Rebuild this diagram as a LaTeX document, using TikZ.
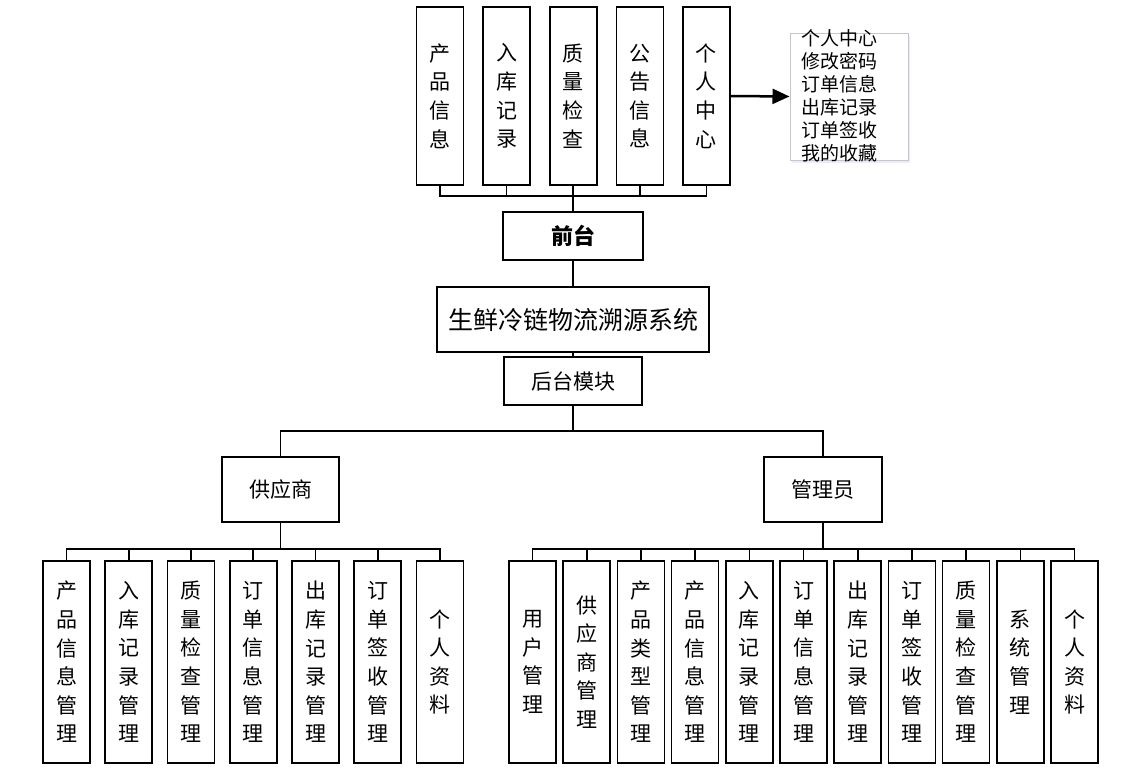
\documentclass[tikz,border=0pt]{standalone}
\usepackage{fontspec}
\setmainfont{Noto Sans CJK SC}
\XeTeXlinebreaklocale "zh"
\XeTeXlinebreakskip=0pt plus 1pt
\usetikzlibrary{arrows.meta,shadows}

\begin{document}
\begin{tikzpicture}[x=1pt,y=-1pt,
    box/.style={draw,line width=1.6pt,inner sep=0pt,font=\fontsize{21}{26}\selectfont},
    vbox/.style={box,minimum width=47pt,text width=25pt,align=center,font=\fontsize{21}{28.6}\selectfont},
    link/.style={line width=1.6pt}]
    \useasboundingbox (0,0) rectangle (1130,777);

    % front end
    \foreach \t [count=\i] in {产品信息,入库记录,质量检查,公告信息,个人中心} {
        \node[vbox,minimum height=178pt] (f\i) at ({440+66.6*(\i-1)},96) {\t};
    }
    \node[box,minimum width=140pt,minimum height=48pt,font=\fontsize{22}{26}\selectfont\bfseries] (qt) at (573,236) {前台};
    \foreach \i in {1,...,5} {
        \draw[link] (qt.north) -- ++(0,-15) -| (f\i.south);
    }

    % personal center list
    \node[draw=gray!45,line width=1pt,fill=white,minimum width=118pt,minimum height=127pt,
        drop shadow={shadow xshift=2pt,shadow yshift=-3pt,fill=blue!20,opacity=.4}] (lst) at (849,96.5) {};
    \node[align=left,inner sep=0pt,font=\fontsize{19}{23}\selectfont] (lstt) at (839.5,95.5)
        {个人中心\\修改密码\\订单信息\\出库记录\\订单签收\\我的收藏};
    \draw[line width=2.5pt,-{Triangle[length=17pt,width=15pt]}] (f5.east) -- (lst.west);

    % system and back end
    \node[box,minimum width=272pt,minimum height=65pt,font=\fontsize{25}{30}\selectfont] (sys) at (573,319.5) {生鲜冷链物流溯源系统};
    \node[box,minimum width=138pt,minimum height=48pt] (ht) at (573,381) {后台模块};
    \draw[link] (qt) -- (sys);
    \draw[link] (sys) -- (ht);

    \node[box,minimum width=117pt,minimum height=65pt] (gys) at (280.5,489.5) {供应商};
    \node[box,minimum width=118pt,minimum height=65pt] (gly) at (822.8,489.5) {管理员};
    \draw[link] (ht.south) -- ++(0,25) -| (gys.north);
    \draw[link] (ht.south) -- ++(0,25) -| (gly.north);

    % supplier
    \foreach \t [count=\i] in {产品信息管理,入库记录管理,质量检查管理,订单信息管理,出库记录管理,订单签收管理,个人资料} {
        \node[vbox,minimum height=202pt] (s\i) at ({66.5+62.25*(\i-1)},662) {\t};
        \draw[link] (gys.south) -- ++(0,26) -| (s\i.north);
    }

    % administrator
    \foreach \t [count=\i] in {用户管理,供应商管理,产品类型管理,产品信息管理,入库记录管理,订单信息管理,出库记录管理,订单签收管理,质量检查管理,系统管理,个人资料} {
        \node[vbox,minimum height=202pt] (m\i) at ({532.5+54.2*(\i-1)},662) {\t};
        \draw[link] (gly.south) -- ++(0,26) -| (m\i.north);
    }
\end{tikzpicture}
\end{document}
